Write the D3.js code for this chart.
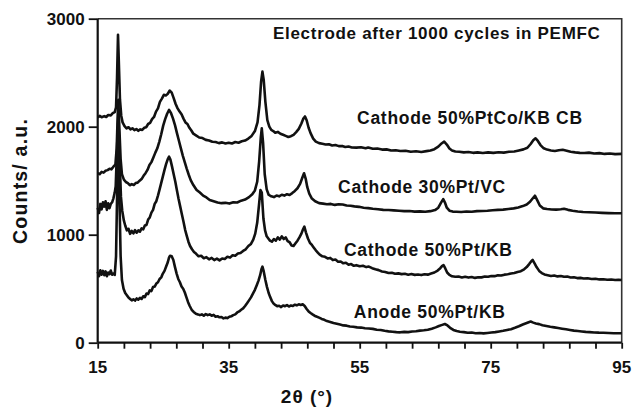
<!DOCTYPE html>
<html>
<head>
<meta charset="utf-8">
<script src="https://cdn.jsdelivr.net/npm/d3@7"></script>
<style>
  html, body { margin: 0; padding: 0; background: #fff; }
  svg { display: block; }
  text { font-family: Arial, "Liberation Sans", Helvetica, sans-serif; font-weight: bold; fill: #111; }
</style>
</head>
<body>
<svg id="chart" width="634" height="407"></svg>
<script>
// XRD patterns, [2θ in degrees, counts]
const cathodePtCoKB = [[15,2085],[15.3,2100],[15.6,2088],[16,2098],[16.3,2090],[16.6,2108],[17,2105],[17.3,2125],[17.6,2135],[17.8,2180],[17.95,2450],[18.1,2850],[18.25,2550],[18.4,2250],[18.6,2100],[18.8,2040],[19.1,2005],[19.4,1985],[19.7,1995],[20,1975],[20.3,1985],[20.6,1968],[20.9,1978],[21.2,1962],[21.5,1975],[21.8,1970],[22.1,1990],[22.4,1995],[22.7,2025],[23,2035],[23.3,2070],[23.6,2090],[23.9,2140],[24.2,2170],[24.5,2230],[24.8,2260],[25.1,2295],[25.4,2290],[25.7,2305],[26,2335],[26.3,2315],[26.6,2265],[26.9,2210],[27.2,2170],[27.5,2140],[27.8,2115],[28.1,2075],[28.4,2040],[28.7,2025],[29,1990],[29.3,1965],[29.6,1935],[30,1920],[30.5,1900],[31,1895],[31.5,1878],[32,1872],[32.5,1860],[33,1858],[33.5,1848],[34,1855],[34.5,1845],[35,1852],[35.5,1845],[36,1858],[36.5,1852],[37,1865],[37.5,1872],[38,1890],[38.5,1915],[39,1960],[39.4,2040],[39.7,2200],[39.95,2420],[40.15,2510],[40.35,2430],[40.6,2230],[40.9,2060],[41.2,2000],[41.5,1970],[41.8,1960],[42.1,1945],[42.5,1952],[42.9,1935],[43.3,1925],[43.7,1915],[44.1,1905],[44.5,1912],[44.9,1925],[45.3,1950],[45.7,1980],[46.1,2030],[46.4,2075],[46.65,2095],[46.9,2060],[47.2,1990],[47.5,1940],[47.9,1890],[48.3,1862],[48.8,1848],[49.3,1842],[49.8,1835],[50.3,1838],[50.8,1826],[51.3,1830],[51.8,1820],[52.3,1822],[52.8,1812],[53.3,1816],[53.8,1808],[54.5,1806],[55.2,1810],[55.9,1800],[56.3,1808],[57,1796],[57.7,1798],[58.4,1788],[59.1,1790],[59.8,1780],[60.5,1782],[61.2,1775],[62,1778],[62.8,1768],[63.6,1772],[64.4,1766],[65.2,1774],[65.8,1780],[66.4,1792],[67,1815],[67.5,1845],[67.9,1862],[68.3,1835],[68.7,1798],[69.1,1780],[69.6,1770],[70.2,1768],[70.9,1762],[71.6,1766],[72.3,1758],[73,1762],[73.8,1756],[74.6,1762],[75.4,1758],[76.2,1764],[77,1760],[77.8,1768],[78.6,1770],[79.3,1780],[80,1790],[80.6,1805],[81.1,1840],[81.5,1875],[81.85,1893],[82.2,1868],[82.6,1830],[83.1,1800],[83.6,1788],[84.2,1780],[84.8,1775],[85.4,1782],[86,1786],[86.6,1778],[87.2,1768],[87.9,1762],[88.6,1758],[89.3,1756],[90,1760],[90.8,1752],[91.6,1755],[92.4,1748],[93.2,1752],[94,1746],[95,1748]];

const cathodePtVC = [[15,1570],[15.3,1560],[15.6,1582],[15.9,1575],[16.2,1592],[16.5,1598],[16.8,1610],[17.1,1605],[17.4,1630],[17.7,1650],[17.9,1800],[18.05,2100],[18.15,2250],[18.3,2000],[18.5,1700],[18.7,1560],[19,1510],[19.3,1488],[19.6,1478],[19.9,1458],[20.2,1468],[20.5,1460],[20.8,1478],[21.1,1482],[21.4,1500],[21.7,1515],[22,1545],[22.3,1570],[22.6,1600],[22.9,1645],[23.2,1672],[23.5,1715],[23.8,1760],[24.1,1800],[24.4,1860],[24.7,1930],[25,2010],[25.3,2070],[25.6,2120],[25.9,2155],[26.2,2125],[26.5,2075],[26.8,2015],[27.1,1940],[27.4,1870],[27.7,1800],[28,1730],[28.3,1670],[28.6,1610],[28.9,1555],[29.2,1505],[29.6,1460],[30.1,1414],[30.6,1390],[31.1,1362],[31.6,1345],[32.1,1322],[32.7,1310],[33.3,1298],[33.9,1292],[34.5,1295],[35.1,1288],[35.7,1300],[36.3,1298],[36.9,1315],[37.5,1325],[38.1,1348],[38.6,1375],[39,1410],[39.35,1490],[39.65,1680],[39.9,1900],[40.05,1985],[40.25,1850],[40.5,1560],[40.8,1420],[41.1,1370],[41.5,1355],[41.9,1348],[42.3,1362],[42.7,1355],[43.1,1370],[43.5,1362],[43.9,1375],[44.3,1368],[44.7,1385],[45.1,1405],[45.5,1430],[45.9,1470],[46.25,1530],[46.5,1569],[46.75,1520],[47,1440],[47.3,1380],[47.7,1335],[48.2,1310],[48.8,1292],[49.4,1288],[50,1282],[50.6,1285],[51.2,1276],[51.8,1282],[52.4,1280],[53,1270],[53.6,1268],[54.2,1262],[54.9,1258],[55.6,1250],[56.3,1246],[57,1240],[57.8,1236],[58.6,1230],[59.4,1228],[60.2,1225],[61,1222],[61.8,1218],[62.6,1220],[63.4,1214],[64.2,1216],[65,1212],[65.8,1218],[66.5,1228],[67,1250],[67.4,1295],[67.75,1330],[68,1300],[68.3,1250],[68.7,1222],[69.2,1214],[69.8,1212],[70.5,1210],[71.3,1215],[72.1,1212],[72.9,1218],[73.7,1220],[74.5,1222],[75.3,1226],[76.1,1230],[76.9,1232],[77.7,1238],[78.5,1244],[79.2,1252],[79.9,1265],[80.5,1280],[81,1305],[81.4,1335],[81.75,1361],[82.1,1320],[82.5,1270],[83,1244],[83.6,1238],[84.3,1234],[85,1232],[85.7,1236],[86.2,1240],[86.8,1230],[87.5,1222],[88.3,1215],[89.1,1210],[90,1208],[91,1205],[92,1202],[93,1200],[94,1198],[95,1198]];

const cathodePtKB = [[15,1250],[15.2,1200],[15.4,1285],[15.6,1235],[15.8,1300],[16,1260],[16.2,1310],[16.4,1230],[16.6,1290],[16.8,1245],[17,1285],[17.2,1300],[17.4,1337],[17.6,1390],[17.75,1450],[17.95,1800],[18.15,2100],[18.35,1700],[18.55,1350],[18.75,1220],[19,1130],[19.2,1085],[19.45,1040],[19.7,1055],[19.95,1008],[20.2,1035],[20.45,1012],[20.7,1042],[20.95,1018],[21.2,1040],[21.45,1028],[21.7,1058],[21.95,1050],[22.2,1085],[22.45,1090],[22.7,1140],[22.95,1160],[23.2,1205],[23.45,1230],[23.7,1285],[23.95,1310],[24.2,1362],[24.45,1420],[24.7,1480],[24.95,1540],[25.2,1600],[25.45,1655],[25.7,1700],[25.9,1722],[26.1,1695],[26.35,1630],[26.6,1560],[26.85,1490],[27.1,1410],[27.35,1330],[27.6,1260],[27.85,1190],[28.1,1120],[28.35,1045],[28.6,990],[28.85,935],[29.1,895],[29.4,865],[29.7,840],[30,825],[30.4,800],[30.8,805],[31.2,782],[31.6,792],[32,772],[32.4,785],[32.8,765],[33.2,778],[33.6,762],[34,780],[34.4,775],[34.8,795],[35.2,788],[35.6,810],[36,805],[36.4,825],[36.8,830],[37.2,850],[37.6,865],[38,895],[38.4,915],[38.75,955],[39.05,1010],[39.35,1110],[39.6,1260],[39.85,1414],[40.05,1390],[40.3,1150],[40.55,1040],[40.8,985],[41.05,965],[41.3,945],[41.6,935],[41.9,960],[42.2,945],[42.5,975],[42.8,955],[43.1,985],[43.4,960],[43.7,975],[44,940],[44.3,930],[44.6,900],[44.9,895],[45.2,920],[45.5,945],[45.8,975],[46.1,1010],[46.35,1050],[46.55,1074],[46.8,1020],[47.1,965],[47.4,925],[47.7,905],[48,880],[48.3,855],[48.6,835],[48.9,815],[49.3,800],[49.7,795],[50.1,780],[50.5,785],[50.9,765],[51.3,770],[51.7,750],[52.1,752],[52.5,735],[52.9,740],[53.3,722],[53.7,728],[54.1,712],[54.5,718],[55,708],[55.5,712],[56,700],[56.4,705],[56.9,690],[57.4,680],[57.9,672],[58.4,660],[58.9,655],[59.4,645],[59.9,648],[60.4,638],[60.9,642],[61.4,635],[61.9,638],[62.4,630],[62.9,636],[63.4,628],[63.9,632],[64.4,626],[64.9,634],[65.4,630],[65.9,640],[66.4,650],[66.9,668],[67.3,690],[67.6,712],[67.8,719],[68.05,690],[68.35,650],[68.7,628],[69.1,615],[69.6,610],[70.1,612],[70.6,604],[71.1,610],[71.6,603],[72.1,608],[72.6,600],[73.1,606],[73.6,605],[74.1,612],[74.6,610],[75.1,618],[75.6,616],[76.1,624],[76.6,622],[77.1,630],[77.6,634],[78.1,640],[78.6,645],[79.1,655],[79.6,662],[80.1,680],[80.5,700],[80.9,730],[81.2,755],[81.4,766],[81.7,735],[82,700],[82.4,665],[82.8,645],[83.2,632],[83.7,625],[84.2,618],[84.7,622],[85.2,614],[85.7,618],[86.2,610],[86.7,612],[87.2,604],[87.7,606],[88.2,598],[88.7,600],[89.2,594],[89.8,596],[90.4,590],[91,592],[91.6,586],[92.2,588],[92.8,583],[93.4,585],[94,580],[94.5,583],[95,580]];

const anodePtKB = [[15,657],[15.2,615],[15.4,670],[15.6,630],[15.8,665],[16,625],[16.2,660],[16.4,615],[16.6,650],[16.8,635],[17,668],[17.2,630],[17.4,640],[17.6,627],[17.8,800],[18.0,1500],[18.15,1800],[18.3,1400],[18.5,800],[18.7,580],[18.95,500],[19.2,460],[19.45,440],[19.7,418],[19.95,405],[20.2,392],[20.45,402],[20.7,390],[20.95,410],[21.2,398],[21.45,415],[21.7,405],[21.95,430],[22.2,422],[22.45,455],[22.7,450],[22.95,485],[23.2,478],[23.45,515],[23.7,520],[23.95,548],[24.2,560],[24.45,590],[24.7,605],[24.95,640],[25.2,665],[25.45,705],[25.7,745],[25.9,790],[26.05,805],[26.3,800],[26.55,766],[26.8,700],[27.05,640],[27.3,590],[27.55,560],[27.8,520],[28.05,500],[28.3,465],[28.55,420],[28.8,375],[29.05,340],[29.35,305],[29.65,285],[30,268],[30.3,262],[30.6,255],[30.9,262],[31.2,250],[31.5,265],[31.8,255],[32.1,262],[32.4,250],[32.7,258],[33,240],[33.3,245],[33.6,235],[33.9,238],[34.2,225],[34.5,232],[34.8,228],[35.1,240],[35.4,245],[35.7,255],[36,262],[36.3,280],[36.6,290],[36.9,305],[37.2,318],[37.5,340],[37.8,365],[38.1,392],[38.4,420],[38.7,455],[39,490],[39.3,535],[39.55,575],[39.8,625],[40.0,680],[40.15,704],[40.35,660],[40.6,580],[40.85,515],[41.1,460],[41.35,420],[41.6,385],[41.85,362],[42.1,350],[42.4,338],[42.7,342],[43,330],[43.3,345],[43.6,338],[43.9,348],[44.2,335],[44.5,345],[44.8,340],[45.1,352],[45.4,346],[45.7,355],[46,350],[46.3,356],[46.6,340],[46.9,312],[47.2,290],[47.5,275],[47.8,262],[48.1,250],[48.4,242],[48.8,232],[49.2,220],[49.6,212],[50,200],[50.5,192],[51,182],[51.5,175],[52,168],[52.5,160],[53,158],[53.5,150],[54,148],[54.6,142],[55.2,140],[55.8,134],[56.4,132],[57,128],[57.6,120],[58.2,118],[58.8,110],[59.4,105],[60,102],[60.6,98],[61.2,96],[61.8,100],[62.4,98],[63,104],[63.6,106],[64.2,112],[64.8,115],[65.4,120],[66,130],[66.6,142],[67.1,155],[67.6,165],[68,173],[68.4,160],[68.8,138],[69.3,118],[69.8,108],[70.3,102],[70.9,98],[71.5,92],[72.1,94],[72.7,88],[73.3,90],[73.9,86],[74.5,90],[75.1,94],[75.7,98],[76.3,104],[76.9,110],[77.5,118],[78.1,125],[78.7,138],[79.3,152],[79.9,168],[80.4,180],[80.8,190],[81.1,196],[81.5,186],[81.9,178],[82.4,172],[82.9,162],[83.5,155],[84.1,148],[84.7,142],[85.3,136],[85.9,130],[86.5,124],[87.1,118],[87.7,112],[88.3,108],[88.9,104],[89.5,100],[90.1,98],[90.8,95],[91.5,93],[92.2,92],[93,90],[93.8,88],[94.5,88],[95,87]];

const seriesNames = ["Cathode 50%PtCo/KB CB", "Cathode 30%Pt/VC", "Cathode 50%Pt/KB", "Anode 50%Pt/KB"];
const seriesData = [cathodePtCoKB, cathodePtVC, cathodePtKB, anodePtKB];
// label anchor points (left end of baseline) in data units [2θ, counts]
const labelPos = [[54.6, 2025], [51.7, 1390], [52.6, 805], [54.1, 232]];
const chartTitle = "Electrode after 1000 cycles in PEMFC";

const xTickLabels = [15, 35, 55, 75, 95];
const xMinorTicks = d3.range(15, 95.01, 4);
const yTickLabels = [0, 1000, 2000, 3000];

const svg = d3.select("#chart");
const margin = { left: 97.7, right: 12.3, top: 18.7, bottom: 64.3 };
const W = 634, H = 407;

const x = d3.scaleLinear().domain([15, 95]).range([margin.left, W - margin.right]);
const y = d3.scaleLinear().domain([0, 3000]).range([H - margin.bottom, margin.top]);

// frame (top and right edges)
svg.append("path")
  .attr("d", `M${x(15)},${y(3000)}H${x(95)}V${y(0)}`)
  .attr("fill", "none").attr("stroke", "#333").attr("stroke-width", 1.6);

// patterns
const line = d3.line().x(d => x(d[0])).y(d => y(d[1]));
svg.append("g").selectAll("path").data(seriesData).join("path")
  .attr("d", line)
  .attr("fill", "none")
  .attr("stroke", "#111")
  .attr("stroke-width", 2.6)
  .attr("stroke-linejoin", "round");

// x axis
const xAxis = svg.append("g").attr("transform", `translate(0,${y(0)})`)
  .call(d3.axisBottom(x).tickValues(xMinorTicks).tickSize(6).tickFormat(""));
xAxis.select(".domain").attr("stroke", "#111").attr("stroke-width", 2.2).attr("d", `M${x(15)},0H${x(95)}`);
xAxis.selectAll(".tick line").attr("stroke", "#111").attr("stroke-width", 1.8);
svg.append("g").selectAll("text").data(xTickLabels).join("text")
  .attr("x", d => x(d)).attr("y", y(0) + 30)
  .attr("text-anchor", "middle").attr("font-size", 17)
  .text(d => d);

// y axis
const yAxis = svg.append("g").attr("transform", `translate(${x(15)},0)`)
  .call(d3.axisLeft(y).tickValues(yTickLabels).tickSize(9).tickPadding(4).tickFormat(d3.format("d")));
yAxis.select(".domain").attr("stroke", "#111").attr("stroke-width", 2.2).attr("d", `M0,${y(0)}V${y(3000)}`);
yAxis.selectAll(".tick line").attr("stroke", "#111").attr("stroke-width", 1.8);
yAxis.selectAll(".tick text").attr("font-size", 17).attr("font-family", null).attr("fill", "#111").attr("dy", "0.36em");

// axis titles
svg.append("text")
  .attr("x", 307).attr("y", 403)
  .attr("text-anchor", "middle").attr("font-size", 19).attr("letter-spacing", 1)
  .text("2θ (°)");
svg.append("text")
  .attr("transform", "translate(27,181) rotate(-90)")
  .attr("text-anchor", "middle").attr("font-size", 19.5).attr("letter-spacing", 1.2)
  .text("Counts/ a.u.");

// title and series labels
svg.append("text")
  .attr("x", 273).attr("y", 39)
  .attr("font-size", 17).attr("letter-spacing", 0.7)
  .text(chartTitle);
svg.append("g").selectAll("text").data(seriesNames).join("text")
  .attr("x", (d, i) => x(labelPos[i][0]))
  .attr("y", (d, i) => y(labelPos[i][1]))
  .attr("font-size", 17.5).attr("letter-spacing", 0.7)
  .text(d => d);
</script>
</body>
</html>
